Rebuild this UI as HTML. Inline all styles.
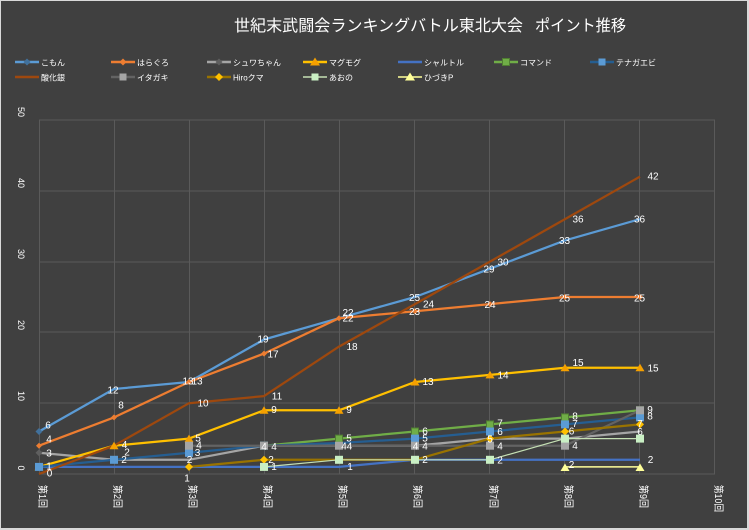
<!DOCTYPE html>
<html><head><meta charset="utf-8"><style>
html,body{margin:0;padding:0;background:#d9d9d9;}
svg{display:block;}
text{font-family:"Liberation Sans","Noto Sans CJK JP",sans-serif;fill:#fff;}
.lb{font-size:10px;text-anchor:middle;}
.lg{font-size:8px;}
.ax{font-size:9px;text-anchor:middle;}
</style></head><body>
<svg width="749" height="530" viewBox="0 0 749 530" xmlns="http://www.w3.org/2000/svg">
<rect x="0" y="0" width="749" height="530" fill="#d9d9d9"/>
<rect x="1" y="1" width="746" height="527" fill="#404040"/>

<!-- title -->
<text x="234" y="31" font-size="16" textLength="289" lengthAdjust="spacingAndGlyphs">世紀末武闘会ランキングバトル東北大会</text>
<text x="535" y="31" font-size="16" textLength="91" lengthAdjust="spacingAndGlyphs">ポイント推移</text>

<!-- legend row 1 -->
<g stroke-width="2.5">
<line x1="15" y1="62" x2="39" y2="62" stroke="#5B9BD5"/>
<line x1="111" y1="62" x2="135" y2="62" stroke="#ED7D31"/>
<line x1="207" y1="62" x2="231" y2="62" stroke="#A5A5A5"/>
<line x1="303" y1="62" x2="327" y2="62" stroke="#FFC000"/>
<line x1="398" y1="62" x2="422" y2="62" stroke="#4472C4"/>
<line x1="494" y1="62" x2="518" y2="62" stroke="#70AD47"/>
<line x1="590" y1="62" x2="614" y2="62" stroke="#255E91"/>
<line x1="15" y1="77" x2="39" y2="77" stroke="#9E480E"/>
<line x1="111" y1="77" x2="135" y2="77" stroke="#636363"/>
<line x1="207" y1="77" x2="231" y2="77" stroke="#997300"/>
<line x1="303" y1="77" x2="327" y2="77" stroke="#C5E0B4" stroke-width="1.5"/>
<line x1="398" y1="77" x2="422" y2="77" stroke="#FFFF99" stroke-width="1.5"/>
</g>
<path d="M27,58.5 L30.5,62 L27,65.5 L23.5,62 Z" fill="#41719C"/>
<path d="M123,58.5 L126.5,62 L123,65.5 L119.5,62 Z" fill="#ED7D31"/>
<path d="M219,58.5 L222.5,62 L219,65.5 L215.5,62 Z" fill="#5f5f5f"/>
<path d="M315,57.5 L320,65.5 L310,65.5 Z" fill="#F5A000"/>
<rect x="502.5" y="58.5" width="7" height="7" fill="#70AD47" stroke="#507E32" stroke-width="1"/>
<rect x="598.5" y="58.5" width="7" height="7" fill="#5B9BD5"/>
<rect x="119.5" y="73.5" width="7" height="7" fill="#A5A5A5"/>
<path d="M219,73 L223,77 L219,81 L215,77 Z" fill="#FFC000"/>
<rect x="311.5" y="73.5" width="7" height="7" fill="#C9EFC4"/>
<path d="M410,72.5 L415,80.5 L405,80.5 Z" fill="#FFFF99"/>

<g class="lg">
<text x="41" y="65.5">こもん</text>
<text x="137" y="65.5">はらぐろ</text>
<text x="233" y="65.5">シュワちゃん</text>
<text x="329" y="65.5">マグモグ</text>
<text x="424" y="65.5">シャルトル</text>
<text x="520" y="65.5">コマンド</text>
<text x="616" y="65.5">テナガエビ</text>
<text x="41" y="80.5">酸化銀</text>
<text x="137" y="80.5">イタガキ</text>
<text x="233" y="80.5">Hiroクマ</text>
<text x="329" y="80.5">あおの</text>
<text x="424" y="80.5">ひづきP</text>
</g>

<!-- grid -->
<g stroke="#5a5a5a" stroke-width="1" fill="none">
<line x1="39" y1="120" x2="715" y2="120"/>
<line x1="39" y1="191" x2="715" y2="191"/>
<line x1="39" y1="262" x2="715" y2="262"/>
<line x1="39" y1="332" x2="715" y2="332"/>
<line x1="39" y1="403" x2="715" y2="403"/>
<line x1="39" y1="474" x2="715" y2="474"/>
<line x1="39.5" y1="120" x2="39.5" y2="474"/>
<line x1="114.5" y1="120" x2="114.5" y2="474"/>
<line x1="189.5" y1="120" x2="189.5" y2="474"/>
<line x1="264.5" y1="120" x2="264.5" y2="474"/>
<line x1="339.5" y1="120" x2="339.5" y2="474"/>
<line x1="414.5" y1="120" x2="414.5" y2="474"/>
<line x1="489.5" y1="120" x2="489.5" y2="474"/>
<line x1="564.5" y1="120" x2="564.5" y2="474"/>
<line x1="639.5" y1="120" x2="639.5" y2="474"/>
<line x1="714.5" y1="120" x2="714.5" y2="474"/>
</g>

<!-- y axis labels -->
<g class="ax">
<text transform="translate(18,112) rotate(90)">50</text>
<text transform="translate(18,183) rotate(90)">40</text>
<text transform="translate(18,254) rotate(90)">30</text>
<text transform="translate(18,325) rotate(90)">20</text>
<text transform="translate(18,396) rotate(90)">10</text>
<text transform="translate(18,468) rotate(90)">0</text>
</g>

<!-- x axis labels -->
<g font-size="10">
<text transform="translate(39,485) rotate(90)" textLength="23" lengthAdjust="spacingAndGlyphs">第1回</text>
<text transform="translate(114,485) rotate(90)" textLength="23" lengthAdjust="spacingAndGlyphs">第2回</text>
<text transform="translate(189,485) rotate(90)" textLength="23" lengthAdjust="spacingAndGlyphs">第3回</text>
<text transform="translate(264,485) rotate(90)" textLength="23" lengthAdjust="spacingAndGlyphs">第4回</text>
<text transform="translate(339,485) rotate(90)" textLength="23" lengthAdjust="spacingAndGlyphs">第5回</text>
<text transform="translate(414,485) rotate(90)" textLength="23" lengthAdjust="spacingAndGlyphs">第6回</text>
<text transform="translate(490,485) rotate(90)" textLength="23" lengthAdjust="spacingAndGlyphs">第7回</text>
<text transform="translate(565,485) rotate(90)" textLength="23" lengthAdjust="spacingAndGlyphs">第8回</text>
<text transform="translate(640,485) rotate(90)" textLength="23" lengthAdjust="spacingAndGlyphs">第9回</text>
<text transform="translate(715,485) rotate(90)" textLength="27" lengthAdjust="spacingAndGlyphs">第10回</text>
</g>

<!-- series -->
<g fill="none" stroke-width="2.25" stroke-linejoin="round">
<!-- こもん -->
<polyline stroke="#5B9BD5" points="39,431.5 114,389 189,382 264,339.5 339,318.2 415,297 490,268.7 565,240.4 640,219.1"/>
<!-- はらぐろ -->
<polyline stroke="#ED7D31" points="39,445.7 114,417.4 189,382 264,353.6 339,318.2 415,311.2 490,304.1 565,297 640,297"/>
<!-- シュワちゃん -->
<polyline stroke="#A5A5A5" points="39,452.8 114,459.8 189,459.8 264,445.7 339,445.7 415,445.7 490,438.6 565,438.6 640,431.5"/>
<!-- マグモグ -->
<polyline stroke="#FFC000" points="39,466.9 114,445.7 189,438.6 264,410.3 339,410.3 415,382 490,374.9 565,367.8 640,367.8"/>
<!-- シャルトル -->
<polyline stroke="#4472C4" points="39,466.9 114,466.9 189,466.9 264,466.9 339,466.9 415,459.8 490,459.8 565,459.8 640,459.8"/>
<!-- コマンド -->
<polyline stroke="#70AD47" points="264,445.7 339,438.6 415,431.5 490,424.4 565,417.4 640,410.3"/>
<!-- テナガエビ -->
<polyline stroke="#255E91" points="39,466.9 114,459.8 189,452.8 264,445.7 339,443 415,438.6 490,431.5 565,424.4 640,417.4"/>
<!-- 酸化銀 -->
<polyline stroke="#9E480E" points="39,474 114,445.7 189,403.2 264,396.1 339,346.6 415,304.1 490,261.6 565,219.1 640,176.6"/>
<!-- イタガキ -->
<polyline stroke="#636363" points="189,445.7 264,445.7 339,445.7 415,445.7 490,445.7 565,445.7 640,410.3"/>
<!-- Hiroクマ -->
<polyline stroke="#997300" points="189,466.9 264,459.8 339,459.8 415,459.8 490,438.6 565,431.5 640,424.4"/>
<!-- あおの -->
<polyline stroke="#C5E0B4" stroke-width="1.2" points="264,466.9 339,459.8 415,459.8 490,459.8 565,438.6 640,438.6"/>
<!-- ひづきP -->
<polyline stroke="#FFFF99" stroke-width="1.5" points="565,466.9 640,466.9"/>
</g>

<!-- markers -->
<!-- こもん first -->
<path d="M39,428 L42.5,431.5 L39,435 L35.5,431.5 Z" fill="#41719C"/>
<!-- はらぐろ diamonds -->
<g fill="#ED7D31">
<path d="M39,442.7 L42,445.7 L39,448.7 L36,445.7 Z"/>
<path d="M114,414.4 L117,417.4 L114,420.4 L111,417.4 Z"/>
<path d="M189,379 L192,382 L189,385 L186,382 Z"/>
<path d="M264,350.6 L267,353.6 L264,356.6 L261,353.6 Z"/>
<path d="M339,315.2 L342,318.2 L339,321.2 L336,318.2 Z"/>
<path d="M415,308.2 L418,311.2 L415,314.2 L412,311.2 Z"/>
<path d="M490,301.1 L493,304.1 L490,307.1 L487,304.1 Z"/>
<path d="M565,294 L568,297 L565,300 L562,297 Z"/>
<path d="M640,294 L643,297 L640,300 L637,297 Z"/>
</g>
<!-- シュワちゃん first -->
<path d="M39,449.3 L42.5,452.8 L39,456.3 L35.5,452.8 Z" fill="#5f5f5f"/>
<!-- マグモグ triangles -->
<g fill="#F5A000">
<path d="M39,462.9 L43.5,470.4 L34.5,470.4 Z"/>
<path d="M114,441.7 L118.5,449.2 L109.5,449.2 Z"/>
<path d="M189,434.6 L193.5,442.1 L184.5,442.1 Z"/>
<path d="M264,406.3 L268.5,413.8 L259.5,413.8 Z"/>
<path d="M339,406.3 L343.5,413.8 L334.5,413.8 Z"/>
<path d="M415,378 L419.5,385.5 L410.5,385.5 Z"/>
<path d="M490,370.9 L494.5,378.4 L485.5,378.4 Z"/>
<path d="M565,363.8 L569.5,371.3 L560.5,371.3 Z"/>
<path d="M640,363.8 L644.5,371.3 L635.5,371.3 Z"/>
</g>
<!-- コマンド squares -->
<g fill="#70AD47" stroke="#507E32" stroke-width="1">
<rect x="260.5" y="442.2" width="7" height="7"/>
<rect x="335.5" y="435.1" width="7" height="7"/>
<rect x="411.5" y="428" width="7" height="7"/>
<rect x="486.5" y="420.9" width="7" height="7"/>
<rect x="561.5" y="413.9" width="7" height="7"/>
<rect x="636.5" y="406.8" width="7" height="7"/>
</g>
<!-- テナガエビ squares -->
<g fill="#5B9BD5">
<rect x="35" y="462.9" width="8" height="8"/>
<rect x="110" y="455.8" width="8" height="8"/>
<rect x="185" y="448.8" width="8" height="8"/>
<rect x="260" y="441.7" width="8" height="8"/>
<rect x="411" y="434.6" width="8" height="8"/>
<rect x="486" y="427.5" width="8" height="8"/>
<rect x="561" y="420.4" width="8" height="8"/>
<rect x="636" y="413.4" width="8" height="8"/>
</g>
<!-- イタガキ squares -->
<g fill="#A5A5A5">
<rect x="185" y="441.7" width="8" height="8"/>
<rect x="260" y="441.7" width="8" height="8"/>
<rect x="335" y="441.7" width="8" height="8"/>
<rect x="411" y="441.7" width="8" height="8"/>
<rect x="486" y="441.7" width="8" height="8"/>
<rect x="561" y="441.7" width="8" height="8"/>
<rect x="636" y="406.3" width="8" height="8"/>
</g>
<!-- Hiroクマ diamonds -->
<g fill="#FFC000">
<path d="M189,462.9 L193,466.9 L189,470.9 L185,466.9 Z"/>
<path d="M264,455.8 L268,459.8 L264,463.8 L260,459.8 Z"/>
<path d="M490,434.6 L494,438.6 L490,442.6 L486,438.6 Z"/>
<path d="M565,427.5 L569,431.5 L565,435.5 L561,431.5 Z"/>
<path d="M640,420.4 L644,424.4 L640,428.4 L636,424.4 Z"/>
</g>
<!-- あおの squares -->
<g fill="#C9EFC4">
<rect x="260" y="462.9" width="8" height="8"/>
<rect x="335" y="455.8" width="8" height="8"/>
<rect x="411" y="455.8" width="8" height="8"/>
<rect x="486" y="455.8" width="8" height="8"/>
<rect x="561" y="434.6" width="8" height="8"/>
<rect x="636" y="434.6" width="8" height="8"/>
</g>
<!-- ひづきP triangles -->
<g fill="#FFFF99">
<path d="M565,463.5 L569.5,471 L560.5,471 Z"/>
<path d="M640,463.5 L644.5,471 L635.5,471 Z"/>
</g>

<!-- data labels -->
<g class="lb">
<!-- 第1回 -->
<text x="48" y="428.6">6</text>
<text x="49" y="442.6">4</text>
<text x="49" y="456.6">3</text>
<text x="49" y="469.6">1</text>
<text x="49.5" y="476.6">0</text>
<!-- 第2回 -->
<text x="113" y="393.6">12</text>
<text x="121" y="408.6">8</text>
<text x="124.5" y="448.1">4</text>
<text x="127" y="455.6">2</text>
<text x="124" y="463.1">2</text>
<!-- 第3回 -->
<text x="188" y="384.6">13</text>
<text x="197" y="384.6">13</text>
<text x="203" y="406.6">10</text>
<text x="198" y="441.6">5</text>
<text x="199" y="448.6">4</text>
<text x="197.5" y="456.1">3</text>
<text x="189.5" y="463.1">2</text>
<text x="187" y="481.6">1</text>
<!-- 第4回 -->
<text x="263" y="342.6">19</text>
<text x="273" y="357.6">17</text>
<text x="277" y="399.6">11</text>
<text x="274" y="413.1">9</text>
<text x="264" y="450.1">4</text>
<text x="274" y="450.1">4</text>
<text x="271" y="463.1">2</text>
<text x="274" y="470.1">1</text>
<!-- 第5回 -->
<text x="348" y="316.1">22</text>
<text x="348" y="321.6">22</text>
<text x="352" y="350.1">18</text>
<text x="349" y="413.1">9</text>
<text x="349" y="441.6">5</text>
<text x="344" y="449.6">4</text>
<text x="349.5" y="449.6">4</text>
<text x="350" y="470.1">1</text>
<!-- 第6回 -->
<text x="414.5" y="301.1">25</text>
<text x="414.5" y="315.1">23</text>
<text x="428.5" y="307.6">24</text>
<text x="428" y="385.1">13</text>
<text x="425" y="434.6">6</text>
<text x="425" y="441.6">5</text>
<text x="415.5" y="449.6">4</text>
<text x="425" y="449.6">4</text>
<text x="425" y="463.1">2</text>
<!-- 第7回 -->
<text x="489" y="272.6">29</text>
<text x="503" y="265.6">30</text>
<text x="490" y="308.1">24</text>
<text x="503" y="378.6">14</text>
<text x="500" y="426.6">7</text>
<text x="500" y="435.1">6</text>
<text x="490" y="442.6">5</text>
<text x="500" y="449.6">4</text>
<text x="500" y="463.6">2</text>
<!-- 第8回 -->
<text x="578" y="222.6">36</text>
<text x="564.5" y="244.1">33</text>
<text x="564.5" y="301.6">25</text>
<text x="578" y="366.1">15</text>
<text x="575" y="419.6">8</text>
<text x="575" y="427.1">7</text>
<text x="571.5" y="434.6">6</text>
<text x="575" y="449.1">4</text>
<text x="571.5" y="468.1">2</text>
<!-- 第9回 -->
<text x="653" y="179.6">42</text>
<text x="639.5" y="222.6">36</text>
<text x="639.5" y="301.6">25</text>
<text x="653" y="371.6">15</text>
<text x="650" y="413.1">9</text>
<text x="650" y="419.6">8</text>
<text x="640" y="427.1">7</text>
<text x="640" y="435.1">6</text>
<text x="650.5" y="463.1">2</text>
</g>
</svg>
</body></html>
